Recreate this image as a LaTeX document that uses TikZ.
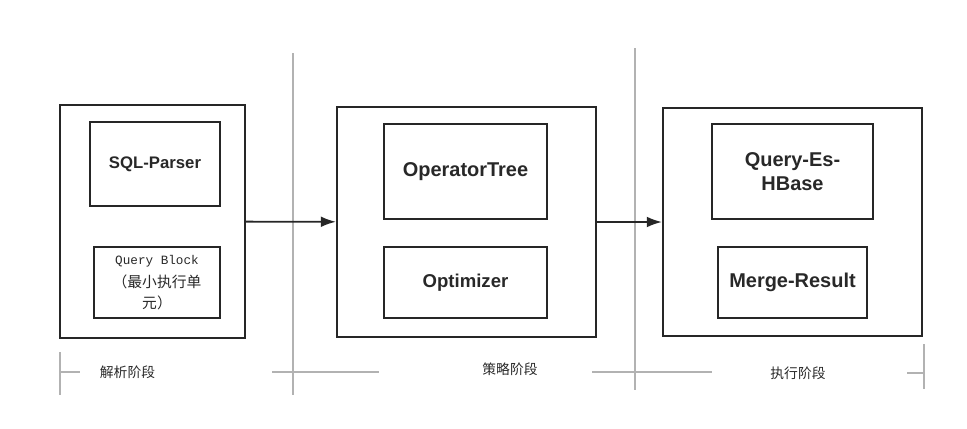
\documentclass[tikz,border=0pt]{standalone}
\usepackage{fontspec}
\setmainfont{Liberation Sans}
\setmonofont{Liberation Mono}
\newfontfamily\cjk{Noto Sans CJK SC}
\usepackage{tikz}
\usetikzlibrary{arrows.meta, positioning}
\definecolor{boxcolor}{RGB}{38,38,38}
\definecolor{txtcolor}{RGB}{40,40,40}
\definecolor{guidecolor}{RGB}{178,178,178}
\tikzset{
  stage/.style={draw=boxcolor, line width=1.4pt, minimum width=#1,
                minimum height=5.75cm, inner sep=0pt},
  part/.style={draw=boxcolor, line width=1.4pt, inner sep=0pt,
               font=\bfseries, text=txtcolor, align=center},
  flow/.style={-{Latex[length=0.38cm, width=0.27cm]}, line width=1.3pt,
               draw=boxcolor},
  guide/.style={draw=guidecolor, line width=1pt},
  phase/.style={font=\cjk\fontsize{9.8pt}{12pt}\selectfont, text=txtcolor},
}
\begin{document}
\begin{tikzpicture}[x=0.025cm, y=-0.025cm]
  \useasboundingbox (0,0) rectangle (967,428);

  % Stages
  \node[stage=4.625cm, minimum height=5.825cm] (parse) at (152.5,221.5) {};
  \node[stage=6.475cm] (plan) at (466.5,222) {};
  \node[stage=6.475cm, minimum height=5.7cm] (exec) at (792.5,222) {};

  % Parse stage
  \node[part, minimum width=3.25cm, minimum height=2.1cm,
        font=\bfseries\fontsize{11.9pt}{14pt}\selectfont] (sqlparser) at (155,164)
    {SQL-Parser};
  \node[part, minimum width=3.15cm, minimum height=1.775cm,
        font=\ttfamily\fontsize{9pt}{13.6pt}\selectfont] (qblock) at (157,282.5)
    {Query Block\\[2.5pt]
     {\cjk\fontsize{10.5pt}{13.6pt}\selectfont （最小执行单}\\[1.5pt]
     {\cjk\fontsize{10.5pt}{13.6pt}\selectfont 元）}};

  % Plan stage
  \node[part, minimum width=4.075cm, minimum height=2.375cm,
        font=\bfseries\fontsize{14.2pt}{17pt}\selectfont] (optree) at (465.5,171.5)
    {OperatorTree};
  \node[part, minimum width=4.075cm, minimum height=1.775cm,
        font=\bfseries\fontsize{13.2pt}{16pt}\selectfont] (optimizer) at (465.5,282.5)
    {Optimizer};

  % Exec stage
  \node[part, minimum width=4.025cm, minimum height=2.375cm,
        font=\bfseries\fontsize{14.2pt}{16.6pt}\selectfont] (queryes) at (792.5,171.5)
    {Query-Es-\\HBase};
  \node[part, minimum width=3.725cm, minimum height=1.775cm,
        font=\bfseries\fontsize{14.2pt}{17pt}\selectfont] (merge) at (792.5,282.5)
    {Merge-Result};

  % Dividers
  \draw[guide] (293,53) -- (293,395);
  \draw[guide] (635,48) -- (635,390);

  % Flow
  \draw[flow] (parse) -- (plan);
  \draw[flow] (plan) -- (exec);

  % Phase labels
  \node[phase] (phparse) at (127.5,372) {解析阶段};
  \node[phase] (phplan) at (510,369) {策略阶段};
  \node[phase] (phexec) at (798,373) {执行阶段};

  \draw[guide] (60,352) -- (60,395);
  \draw[guide] (60,372) -- (80,372);
  \draw[guide] (272,372) -- (379,372);
  \draw[guide] (592,372) -- (712,372);
  \draw[guide] (907,373) -- (924,373);
  \draw[guide] (924,344) -- (924,389);

\end{tikzpicture}
\end{document}
